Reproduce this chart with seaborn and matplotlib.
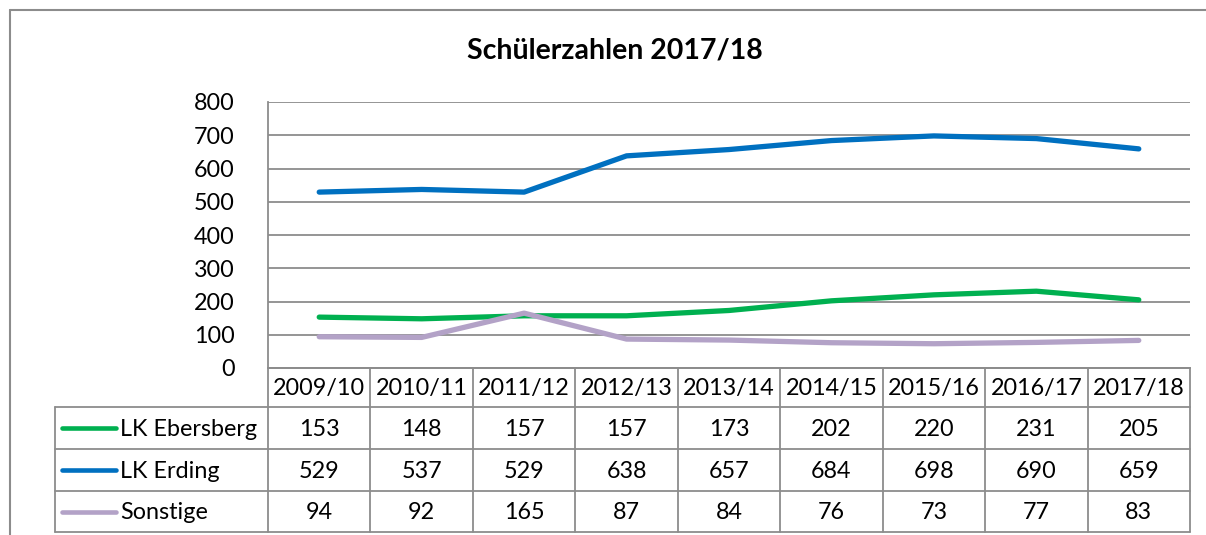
import seaborn as sns
import pandas as pd
import matplotlib.pyplot as plt
from matplotlib.lines import Line2D

# Data
years = ['2009/10', '2010/11', '2011/12', '2012/13', '2013/14',
         '2014/15', '2015/16', '2016/17', '2017/18']
ebersberg = [153, 148, 157, 157, 173, 202, 220, 231, 205]
erding = [529, 537, 529, 638, 657, 684, 698, 690, 659]
sonstige = [94, 92, 165, 87, 84, 76, 73, 77, 83]

series_names = ['LK Ebersberg', 'LK Erding', 'Sonstige']
series_values = [ebersberg, erding, sonstige]
colors = ['#00B050', '#0070C0', '#B3A2C7']
y_ticks = [0, 100, 200, 300, 400, 500, 600, 700, 800]

sns.set_theme(style='white')
plt.rcParams['font.family'] = ['Lato', 'DejaVu Sans']

W, H = 1206, 535
fig = plt.figure(figsize=(W / 100, H / 100), dpi=100)

grey = '#8c8c8c'
fs = 16.8

# plot area in pixel terms
px_left, px_right, px_top, px_bottom = 268, 1190, 102, 368
ax = fig.add_axes([px_left / W, 1 - px_bottom / H,
                   (px_right - px_left) / W, (px_bottom - px_top) / H])

df = pd.DataFrame({
    'Jahr': years * len(series_names),
    'x': list(range(len(years))) * len(series_names),
    'Schüler': sum(series_values, []),
    'Reihe': [n for n in series_names for _ in years],
})
sns.lineplot(data=df, x='x', y='Schüler', hue='Reihe', palette=colors,
             linewidth=3.8, ax=ax, legend=False)
for line in ax.lines:
    line.set_solid_capstyle('round')
    line.set_solid_joinstyle('round')

ax.set_xlim(-0.5, len(years) - 0.5)
ax.set_ylim(0, 800)
ax.set_yticks(y_ticks)
ax.set_yticklabels([str(t) for t in y_ticks], fontsize=fs, color='black')
ax.set_xticks([])
ax.set_xlabel('')
ax.set_ylabel('')
ax.tick_params(axis='y', length=0, pad=24)
ax.yaxis.grid(True, color=grey, linewidth=1.3)
ax.set_axisbelow(True)
for side in ['top', 'right']:
    ax.spines[side].set_visible(False)
for side in ['left', 'bottom']:
    ax.spines[side].set_color(grey)
    ax.spines[side].set_linewidth(1.3)

# data table below the plot
tbl_left, tbl_top = 55, 368
row_h = [39, 42, 42, 41]
tax = fig.add_axes([0, 0, 1, 1])
tax.set_xlim(0, W)
tax.set_ylim(H, 0)
tax.axis('off')

col_w = (px_right - px_left) / len(years)
col_x = [px_left + i * col_w for i in range(len(years) + 1)]
row_y = [tbl_top]
for h in row_h:
    row_y.append(row_y[-1] + h)

lw = 1.3
# horizontal lines
tax.plot([px_left, px_right], [row_y[0]] * 2, color=grey, lw=lw)
for y in row_y[1:]:
    tax.plot([tbl_left, px_right], [y] * 2, color=grey, lw=lw)
# vertical lines
for x in col_x:
    tax.plot([x, x], [row_y[0], row_y[-1]], color=grey, lw=lw)
tax.plot([tbl_left, tbl_left], [row_y[1], row_y[-1]], color=grey, lw=lw)

for i, yr in enumerate(years):
    tax.text((col_x[i] + col_x[i + 1]) / 2, (row_y[0] + row_y[1]) / 2 + 1, yr,
             ha='center', va='center', fontsize=fs, color='black')

for r, (name, vals, c) in enumerate(zip(series_names, series_values, colors)):
    yc = (row_y[r + 1] + row_y[r + 2]) / 2
    tax.add_line(Line2D([62, 116], [yc, yc], color=c, lw=3.3,
                        solid_capstyle='round'))
    tax.text(120, yc + 1, name, ha='left', va='center', fontsize=fs,
             color='black')
    for i, v in enumerate(vals):
        tax.text((col_x[i] + col_x[i + 1]) / 2, yc + 1, str(v),
                 ha='center', va='center', fontsize=fs, color='black')

# outer chart frame (cropped at right and bottom)
tax.plot([10, W], [10, 10], color=grey, lw=1.5, clip_on=False)
tax.plot([10, 10], [10, H], color=grey, lw=1.5, clip_on=False)

fig.text(615 / W, 1 - 50 / H, 'Schülerzahlen 2017/18', ha='center',
         va='center', fontsize=20.5, fontweight='bold', color='black')

fig.savefig('out.png', dpi=100)
